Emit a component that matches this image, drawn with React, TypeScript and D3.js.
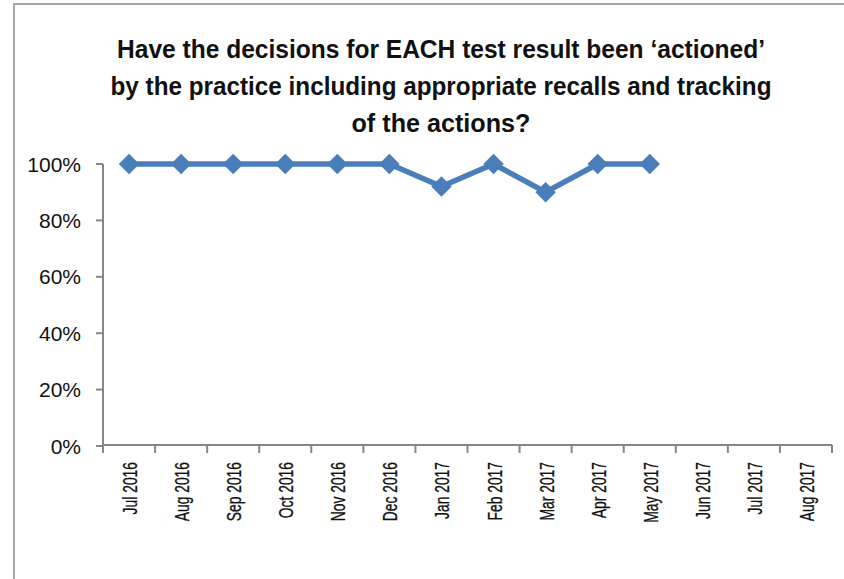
import * as d3 from "d3";
import React from "react";

const WIDTH = 844;
const HEIGHT = 579;
const MARGIN = { top: 164, right: 12, bottom: 134, left: 103 };

const months = [
    "Jul 2016", "Aug 2016", "Sep 2016", "Oct 2016", "Nov 2016", "Dec 2016", "Jan 2017",
    "Feb 2017", "Mar 2017", "Apr 2017", "May 2017", "Jun 2017", "Jul 2017", "Aug 2017",
];
// only the first 11 months have a value
const actioned = [1, 1, 1, 1, 1, 1, 0.92, 1, 0.9, 1, 1];
const yTicks = [0, 0.2, 0.4, 0.6, 0.8, 1];
const titleLines = [
    "Have the decisions for EACH test result been \u2018actioned\u2019",
    "by the practice including appropriate recalls and tracking",
    "of the actions?",
];
const titleWidths = [648, 661, 179];

const LINE_COLOR = "#4a7ebb";
const AXIS_COLOR = "#868686";
const FONT = "'Liberation Sans', Arial, sans-serif";

const App: React.FC = () => {
    const x0 = MARGIN.left;
    const x1 = WIDTH - MARGIN.right;
    const yBottom = HEIGHT - MARGIN.bottom;

    const xScale = d3.scaleBand<string>().domain(months).range([x0, x1]);
    const yScale = d3.scaleLinear().domain([0, 1]).range([yBottom + 1, MARGIN.top]);
    const cx = (i: number) => (xScale(months[i]) || 0) + xScale.bandwidth() / 2;

    const linePath = d3
        .line<number>()
        .x((_, i) => cx(i))
        .y((d) => yScale(d))(actioned);

    const diamond = d3.symbol(d3.symbolSquare, 210)() || "";
    const fmt = d3.format(".0%");

    // band edges for x ticks
    const edges = months.map((m) => xScale(m) || 0).concat([x1]);

    return (
        <svg
            width={WIDTH}
            height={HEIGHT}
            style={{ position: "absolute", left: 0, top: 0, background: "#fff" }}
        >
            <rect x={14} y={4} width={WIDTH} height={HEIGHT} fill="#fff" stroke="#a6a6a6" strokeWidth={2} />

            {titleLines.map((t, i) => (
                <text
                    key={t}
                    x={441}
                    y={58 + i * 37}
                    textAnchor="middle"
                    fontFamily={FONT}
                    fontWeight="bold"
                    fontSize={26}
                    fill="#111"
                    textLength={titleWidths[i]}
                    lengthAdjust="spacingAndGlyphs"
                >
                    {t}
                </text>
            ))}

            {/* y axis */}
            <line x1={x0} x2={x0} y1={MARGIN.top} y2={yBottom} stroke={AXIS_COLOR} strokeWidth={2} />
            {yTicks.map((t) => (
                <g key={t}>
                    <line x1={x0 - 7} x2={x0} y1={yScale(t)} y2={yScale(t)} stroke={AXIS_COLOR} strokeWidth={2} />
                    <text
                        x={81}
                        y={yScale(t) + 7.5}
                        textAnchor="end"
                        fontFamily={FONT}
                        fontSize={21}
                        fill="#111"
                    >
                        {fmt(t)}
                    </text>
                </g>
            ))}

            {/* x axis */}
            <line x1={x0} x2={x1} y1={yBottom} y2={yBottom} stroke={AXIS_COLOR} strokeWidth={2} />
            {edges.map((e, i) => (
                <line key={i} x1={e} x2={e} y1={yBottom} y2={yBottom + 8} stroke={AXIS_COLOR} strokeWidth={2} />
            ))}
            {months.map((m, i) => (
                <text
                    key={m}
                    transform={`translate(${cx(i) + 8},${yBottom + 17}) rotate(-90) scale(0.66,1)`}
                    textAnchor="end"
                    fontFamily={FONT}
                    fontSize={21}
                    fill="#111"
                    stroke="#111"
                    strokeWidth={0.3}
                >
                    {m}
                </text>
            ))}

            {/* series */}
            <path d={linePath || ""} fill="none" stroke={LINE_COLOR} strokeWidth={5.5} strokeLinejoin="round" />
            {actioned.map((v, i) => (
                <path
                    key={i}
                    d={diamond}
                    transform={`translate(${cx(i)},${yScale(v)}) rotate(45)`}
                    fill={LINE_COLOR}
                />
            ))}
        </svg>
    );
};

export default App;
